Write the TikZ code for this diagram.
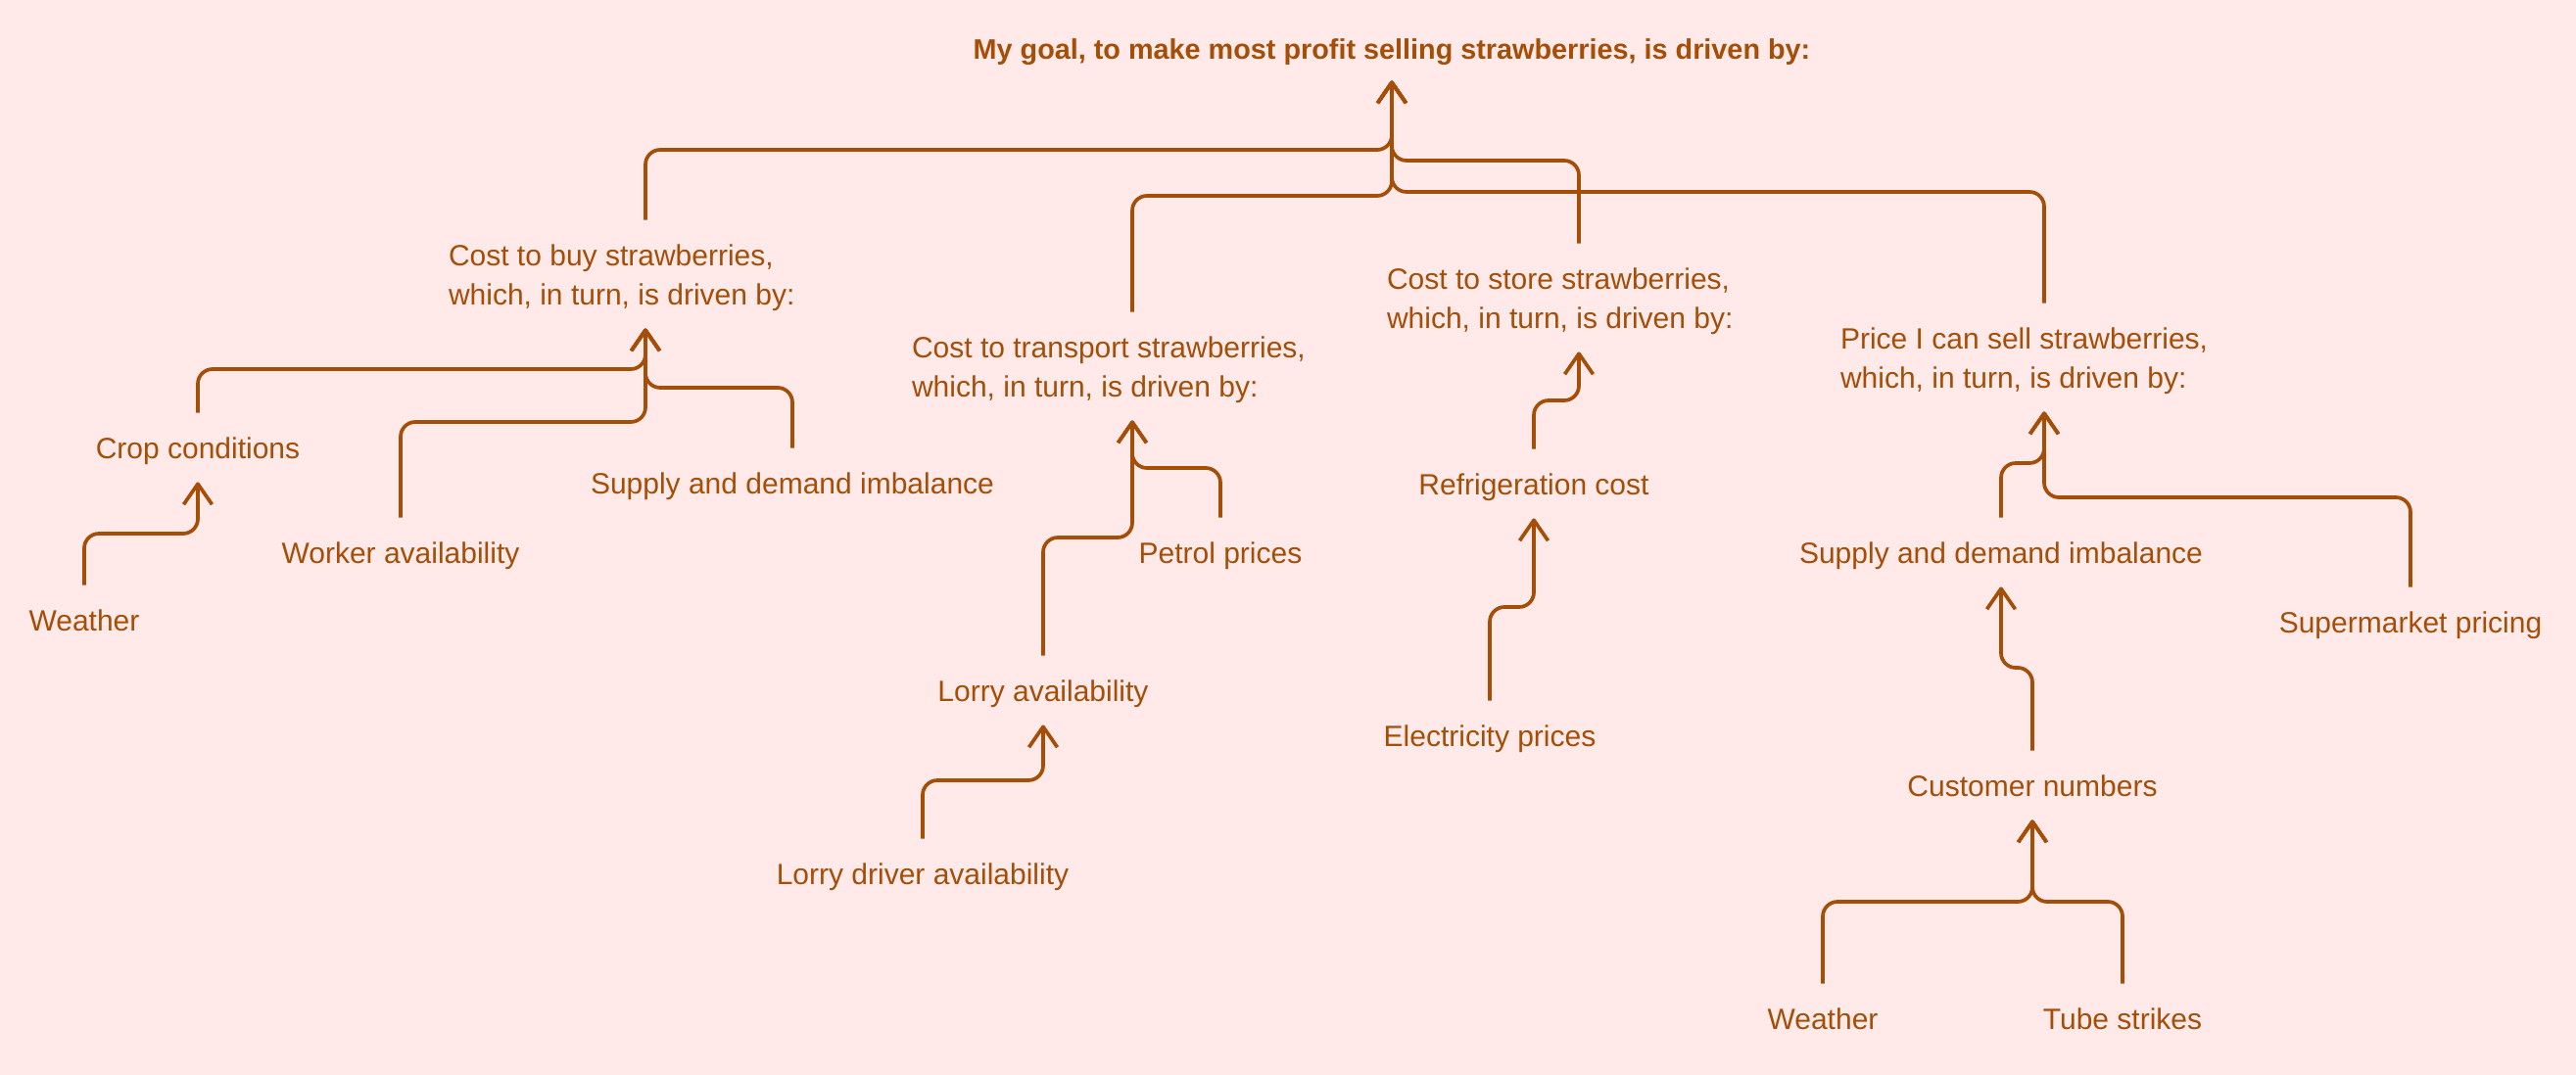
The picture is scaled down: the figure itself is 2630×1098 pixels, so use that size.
\documentclass[tikz,border=0pt]{standalone}
\usepackage{fontspec}
\setmainfont{Liberation Sans}
\usetikzlibrary{arrows.meta}
\definecolor{brn}{RGB}{164,78,8}
\definecolor{bgpink}{RGB}{255,234,233}
\newcommand{\twoln}[3]{\vbox{\hbox to #1{#2\hfil}\hbox to #1{#3\hfil}}}
\begin{document}
\begin{tikzpicture}[x=0.5pt,y=-0.5pt,
  lbl/.style={font=\fontsize{15}{20}\selectfont, text=brn, text height=11pt, text depth=0pt, inner xsep=0pt, inner ysep=12pt},
  lbltwo/.style={lbl, text height=31pt},
  ttl/.style={font=\fontsize{14.4}{18}\selectfont\bfseries, text=brn, text height=10.5pt, text depth=0pt, inner xsep=0pt, inner ysep=10.75pt},
  conn/.style={draw=brn, line width=1.85pt, rounded corners=7.5pt, -{Straight Barb[length=10.5pt,width=14.5pt,line join=round]}}
]
\fill[bgpink] (0,0) rectangle (2630,1098);
\useasboundingbox (0,0) rectangle (2630,1098);

\node[ttl] (goal) at (1421,50) {My goal, to make most profit selling strawberries, is driven by:};
\node[lbltwo] (buy) at (659,280) {\twoln{201pt}{Cost to buy strawberries,}{which, in turn, is driven by:}};
\node[lbltwo] (transport) at (1156,374) {\twoln{225pt}{Cost to transport strawberries,}{which, in turn, is driven by:}};
\node[lbltwo] (store) at (1612,304) {\twoln{196pt}{Cost to store strawberries,}{which, in turn, is driven by:}};
\node[lbltwo] (price) at (2087,365) {\twoln{208pt}{Price I can sell strawberries,}{which, in turn, is driven by:}};

\node[lbl] (crop) at (202,457) {Crop conditions};
\node[lbl] (worker) at (409,564) {Worker availability};
\node[lbl] (sdL) at (809,493) {Supply and demand imbalance};
\node[lbl] (weatherL) at (86,633) {Weather};
\node[lbl] (petrol) at (1246,564) {Petrol prices};
\node[lbl] (lorry) at (1065,705) {Lorry availability};
\node[lbl] (driver) at (942,892) {Lorry driver availability};
\node[lbl] (refrig) at (1566,494) {Refrigeration cost};
\node[lbl] (elec) at (1521,751) {Electricity prices};
\node[lbl] (sdR) at (2043,564) {Supply and demand imbalance};
\node[lbl] (super) at (2461,635) {Supermarket pricing};
\node[lbl] (customer) at (2075,802) {Customer numbers};
\node[lbl] (weatherR) at (1861,1040) {Weather};
\node[lbl] (tube) at (2167,1040) {Tube strikes};

\draw[conn] (buy.north) |- (goal.south |- 0,153) -- (goal.south);
\draw[conn] (store.north) |- (goal.south |- 0,164) -- (goal.south);
\draw[conn] (transport.north) |- (goal.south |- 0,200) -- (goal.south);
\draw[conn] (price.north) |- (goal.south |- 0,196) -- (goal.south);

\draw[conn] (crop.north) |- (buy.south |- 0,377) -- (buy.south);
\draw[conn] (worker.north) |- (buy.south |- 0,431) -- (buy.south);
\draw[conn] (sdL.north) |- (buy.south |- 0,396) -- (buy.south);
\draw[conn] (weatherL.north) |- (crop.south |- 0,545) -- (crop.south);

\draw[conn] (petrol.north) |- (transport.south |- 0,478) -- (transport.south);
\draw[conn] (lorry.north) |- (transport.south |- 0,549) -- (transport.south);
\draw[conn] (driver.north) |- (lorry.south |- 0,797) -- (lorry.south);

\draw[conn] (refrig.north) |- (store.south |- 0,409) -- (store.south);
\draw[conn] (elec.north) |- (refrig.south |- 0,620) -- (refrig.south);

\draw[conn] (sdR.north) |- (price.south |- 0,473) -- (price.south);
\draw[conn] (super.north) |- (price.south |- 0,508) -- (price.south);
\draw[conn] (customer.north) |- (sdR.south |- 0,682) -- (sdR.south);
\draw[conn] (weatherR.north) |- (customer.south |- 0,921) -- (customer.south);
\draw[conn] (tube.north) |- (customer.south |- 0,921) -- (customer.south);
\end{tikzpicture}
\end{document}
